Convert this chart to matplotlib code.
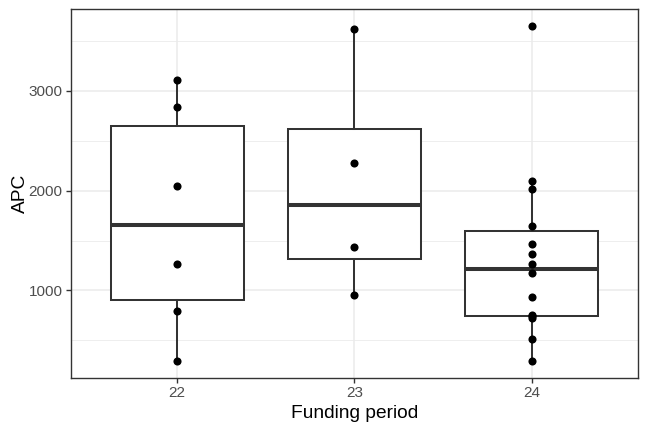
import matplotlib
matplotlib.use("Agg")
import matplotlib.pyplot as plt
import numpy as np

plt.rcParams['font.family'] = ['Liberation Sans', 'DejaVu Sans']

periods = ["22", "23", "24"]
apc_22 = [293, 790, 1260, 2050, 2843, 3110]
apc_23 = [950, 1440, 2280, 3620]
apc_24 = [293, 517, 720, 745, 753, 933, 1170, 1263, 1367, 1470,
          1643, 2020, 2093, 3653]
groups = [apc_22, apc_23, apc_24]

XLABEL = "Funding period"
YLABEL = "APC"
DARK = "#333333"

fig = plt.figure(figsize=(6.48, 4.32), dpi=100)
ax = fig.add_axes([70.7 / 648, (432 - 377.7) / 432,
                   (638.3 - 70.7) / 648, (377.7 - 9) / 432])

pos = np.arange(1, len(periods) + 1)
box_line = dict(color=DARK, linewidth=1.45)
ax.boxplot(groups, positions=pos, widths=0.75, whis=1.5,
           showfliers=False, showcaps=False, patch_artist=True,
           boxprops=dict(facecolor="white", edgecolor=DARK, linewidth=1.45),
           whiskerprops=box_line,
           medianprops=dict(color=DARK, linewidth=2.9, solid_capstyle="butt"),
           zorder=3)

for p, vals in zip(pos, groups):
    ax.scatter(np.full(len(vals), p), vals, s=34, color="black",
               linewidths=0, zorder=4)

# ggplot style limits: 5% on continuous, 0.6 on discrete
allv = np.concatenate(groups)
span = allv.max() - allv.min()
ax.set_ylim(allv.min() - 0.05 * span, allv.max() + 0.05 * span)
ax.set_xlim(0.4, len(periods) + 0.6)

ax.set_xticks(pos)
ax.set_xticklabels(periods)
ax.set_yticks([1000, 2000, 3000])
ax.set_yticks([500, 1500, 2500, 3500], minor=True)
ax.tick_params(axis="y", which="minor", length=0)
ax.tick_params(which="major", direction="out", length=3.4, width=1.0,
               color=DARK, labelcolor="#4D4D4D", labelsize=11, pad=2.5)

ax.grid(which="major", color="#EBEBEB", linewidth=1.1, zorder=0)
ax.grid(which="minor", axis="y", color="#EBEBEB", linewidth=0.6, zorder=0)
ax.set_axisbelow(True)

for s in ax.spines.values():
    s.set_color(DARK)
    s.set_linewidth(1.0)

ax.set_xlabel(XLABEL, fontsize=13.8, labelpad=4)
ax.set_ylabel(YLABEL, fontsize=13.8, labelpad=0)

fig.savefig("out.png", dpi=100)
